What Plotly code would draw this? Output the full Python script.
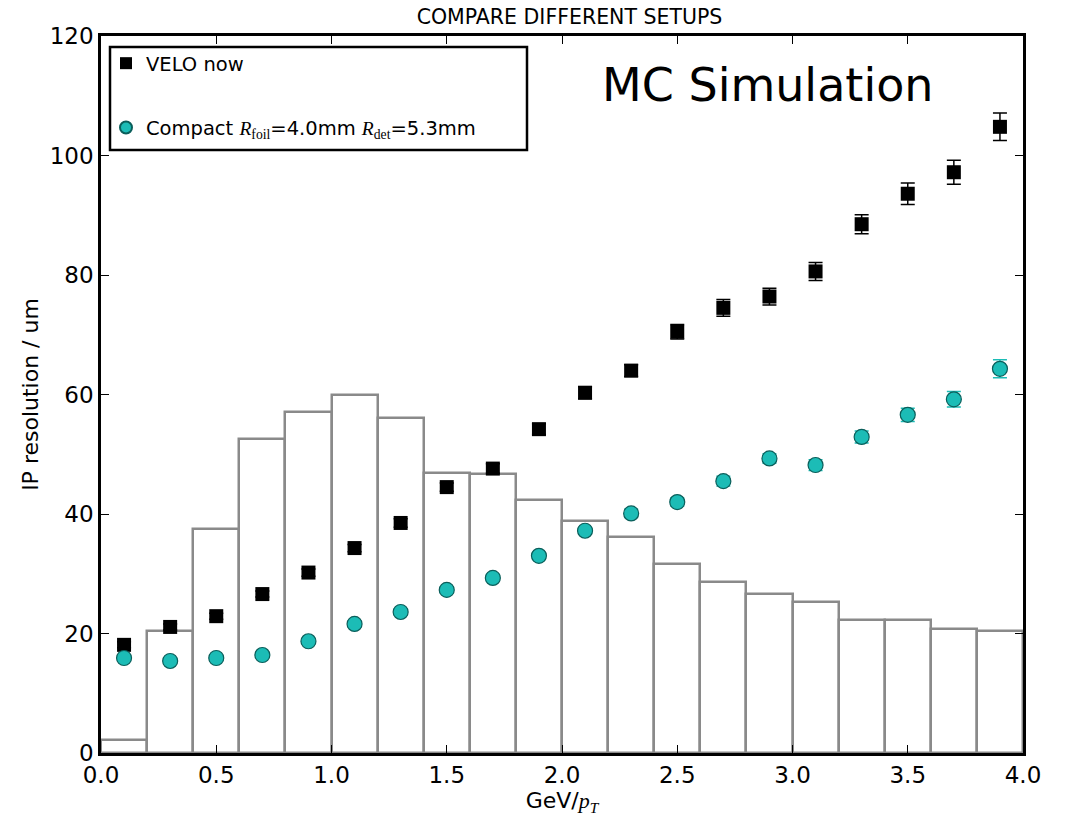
import plotly.graph_objects as go

# ---- data ----
bin_centers = [0.1, 0.3, 0.5, 0.7, 0.9, 1.1, 1.3, 1.5, 1.7, 1.9,
               2.1, 2.3, 2.5, 2.7, 2.9, 3.1, 3.3, 3.5, 3.7, 3.9]
hist_counts = [2.2, 20.4, 37.5, 52.5, 57.0, 60.0, 56.1, 46.8, 46.7, 42.4,
               38.8, 36.2, 31.7, 28.6, 26.6, 25.2, 22.3, 22.3, 20.7, 20.4]
velo_now = [18.1, 21.1, 22.9, 26.6, 30.2, 34.3, 38.5, 44.5, 47.6, 54.2,
            60.3, 64.0, 70.5, 74.5, 76.4, 80.6, 88.5, 93.6, 97.2, 104.8]
velo_err = [0.5, 0.5, 0.5, 0.5, 0.6, 0.6, 0.7, 0.7, 0.8, 0.9,
            1.0, 1.0, 1.2, 1.4, 1.4, 1.5, 1.6, 1.8, 2.0, 2.3]
compact = [15.9, 15.4, 15.9, 16.4, 18.7, 21.6, 23.6, 27.3, 29.3, 33.0,
           37.2, 40.1, 42.0, 45.5, 49.3, 48.2, 52.9, 56.6, 59.2, 64.3]
compact_err = [0.5, 0.4, 0.4, 0.4, 0.4, 0.5, 0.5, 0.5, 0.6, 0.6,
               0.6, 0.7, 0.7, 0.8, 0.8, 0.9, 1.0, 1.1, 1.3, 1.5]
x_ticks = [0.0, 0.5, 1.0, 1.5, 2.0, 2.5, 3.0, 3.5, 4.0]
y_ticks = [0, 20, 40, 60, 80, 100, 120]

FONT = "DejaVu Sans"
SERIF = "Liberation Serif"
W, H = 1070, 818
ML, MR, MT, MB = 101, 47, 36, 65
PW, PH = W - ML - MR, H - MT - MB


def px2paper(x, y):
    return (x - ML) / PW, (H - MB - y) / PH


def it(s):
    return f"<span style='font-family:{SERIF}'><i>{s}</i></span>"


def rm(s):
    return f"<span style='font-family:{SERIF}'>{s}</span>"


fig = go.Figure()

fig.add_trace(go.Bar(
    x=bin_centers, y=hist_counts, width=0.2,
    marker=dict(color="white", line=dict(color="#8a8a8a", width=2.5)),
    showlegend=False, hoverinfo="skip",
))

fig.add_trace(go.Scatter(
    x=bin_centers, y=velo_now, mode="markers", name="VELO now",
    legendgroup="a",
    marker=dict(symbol="square", size=14, color="black",
                line=dict(color="black", width=0)),
    error_y=dict(type="data", array=velo_err, color="black",
                 thickness=1.5, width=7),
))

compact_name = ("Compact " + it("R") + "<sub>" + rm("foil") + "</sub>=4.0mm "
                + it("R") + "<sub>" + rm("det") + "</sub>=5.3mm")
fig.add_trace(go.Scatter(
    x=bin_centers, y=compact, mode="markers",
    name=compact_name,
    legendgroup="b",
    marker=dict(symbol="circle", size=15, color="#1cbcb6",
                line=dict(color="#0b5e5a", width=1.2)),
    error_y=dict(type="data", array=compact_err, color="#1cbcb6",
                 thickness=1.5, width=7),
))

# legend frame
lx0, ly1 = px2paper(110, 47)
lx1, ly0 = px2paper(527, 150)
fig.add_shape(type="rect", xref="paper", yref="paper",
              x0=lx0, x1=lx1, y0=ly0, y1=ly1,
              line=dict(color="black", width=2.5), fillcolor="rgba(0,0,0,0)",
              layer="above")

lgx, lgy = px2paper(106, 44)
fig.update_layout(
    width=W, height=H,
    margin=dict(l=ML, r=MR, t=MT, b=MB),
    paper_bgcolor="white", plot_bgcolor="white",
    font=dict(family=FONT, color="black", size=20),
    title=dict(text="COMPARE DIFFERENT SETUPS", x=px2paper(569.5, 0)[0],
               xref="paper", xanchor="center", y=1 - 17 / H, yanchor="middle",
               font=dict(size=20.5, family=FONT)),
    showlegend=True,
    legend=dict(x=lgx, y=lgy, xanchor="left", yanchor="top",
                bgcolor="rgba(0,0,0,0)", borderwidth=0,
                font=dict(size=19.5, family=FONT),
                tracegroupgap=36, itemsizing="constant"),
    bargap=0,
)

fig.update_xaxes(
    range=[0, 4.0], tickvals=x_ticks,
    ticktext=[f"{v:.1f}" for v in x_ticks],
    ticks="inside", ticklen=8, tickwidth=1.2, tickcolor="black",
    showline=True, linecolor="black", linewidth=2.5, mirror="ticks",
    showgrid=False, zeroline=False,
    tickfont=dict(size=23, family=FONT),
    title=dict(text="GeV/" + it("p") + "<sub>" + it("T") + "</sub>",
               font=dict(size=22, family=FONT), standoff=2),
)
fig.update_yaxes(
    range=[0, 120], tickvals=y_ticks,
    ticks="inside", ticklen=8, tickwidth=1.2, tickcolor="black",
    showline=True, linecolor="black", linewidth=2.5, mirror="ticks",
    showgrid=False, zeroline=False,
    tickfont=dict(size=23, family=FONT),
    title=dict(text="IP resolution / um", font=dict(size=22, family=FONT),
               standoff=6),
)

fig.add_annotation(text="MC Simulation", xref="paper", yref="paper",
                   x=px2paper(767, 0)[0], y=px2paper(0, 85)[1],
                   xanchor="center", yanchor="middle", showarrow=False,
                   font=dict(size=46, family=FONT, color="black"))

fig.write_html("out.html")
